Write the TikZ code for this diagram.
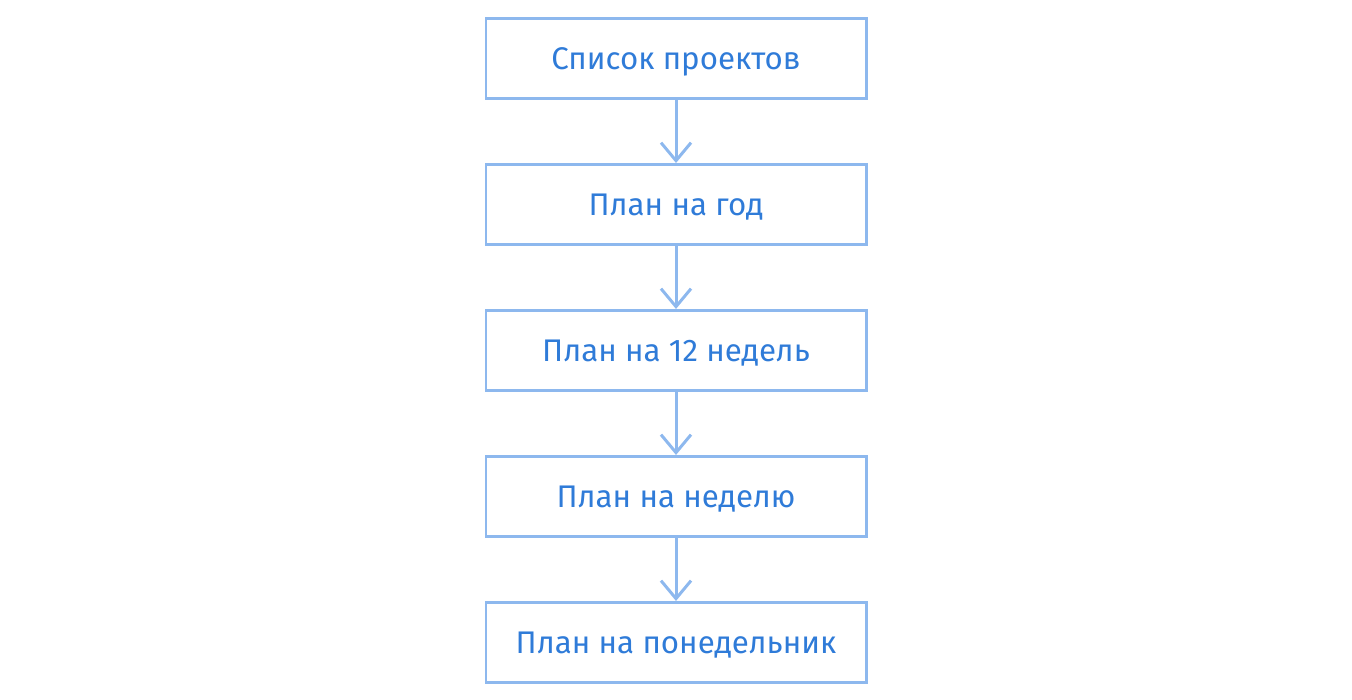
\documentclass[tikz,border=0pt]{standalone}
\usepackage{fontspec}
\setmainfont{Fira Sans}
\usepackage{tikz}
\usetikzlibrary{arrows.meta,positioning,calc}

\definecolor{boxline}{HTML}{8DB8EE}
\definecolor{boxtext}{HTML}{2F7BD8}

\tikzset{
    planbox/.style = {draw=boxline, line width=1.7pt, minimum width=7.6cm, minimum height=1.6cm,
                      text=boxtext, font=\fontsize{17.8}{21}\selectfont, inner sep=0pt,
                      text height=12.3pt, text depth=0pt},
    planarrow/.style = {draw=boxline, line width=1.7pt, -{Straight Barb[length=3.6mm, width=6mm, line width=1.7pt]}}
}

\begin{document}
\begin{tikzpicture}[node distance=1.26cm]

\useasboundingbox (0,0) rectangle (27.04,-14);

\node[planbox] (projects) at (13.52,-1.17) {Список проектов};
\node[planbox, below=of projects] (year) {План на год};
\node[planbox, below=of year] (weeks) {План на 12 недель};
\node[planbox, below=of weeks] (week) {План на неделю};
\node[planbox, below=of week] (monday) {План на понедельник};

\foreach \a/\b in {projects/year, year/weeks, weeks/week, week/monday}
{
    \draw[planarrow] (\a) -- (\b);
}

\end{tikzpicture}
\end{document}
